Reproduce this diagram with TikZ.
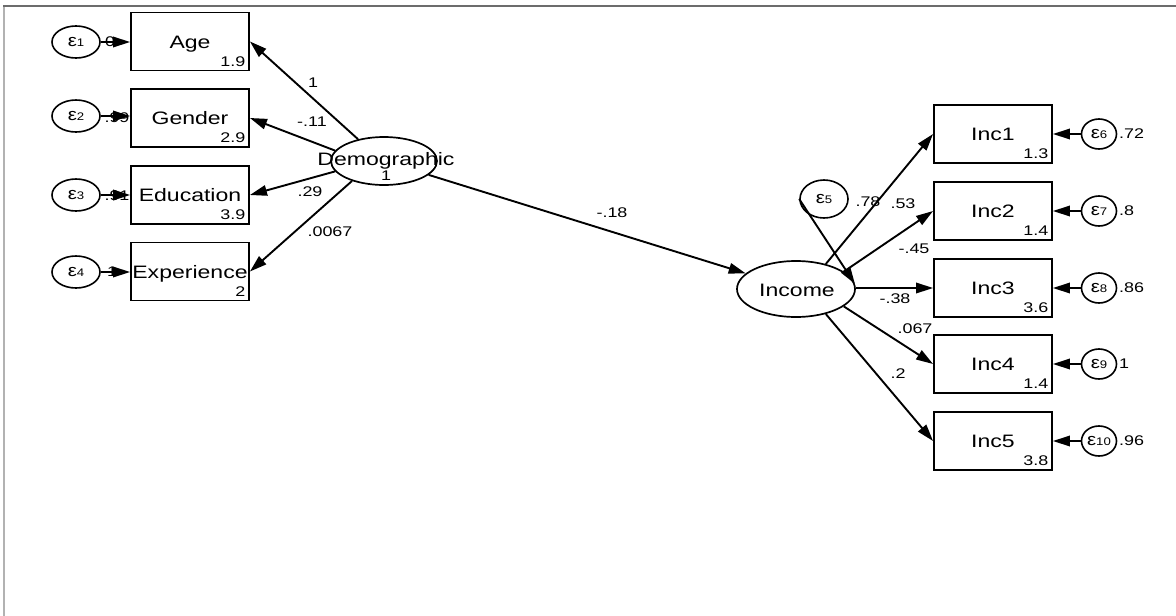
\documentclass[tikz,border=0pt]{standalone}
\usepackage{fontspec}
\setmainfont{Liberation Sans}
\usepackage{graphicx}
\usetikzlibrary{shapes.geometric,arrows.meta}
\newcommand{\bigT}[1]{\scalebox{1.28}[1]{\fontsize{18}{20}\selectfont #1}}
\newcommand{\smT}[1]{\scalebox{1.28}[1]{\fontsize{14}{16}\selectfont #1}}
\newcommand{\epsT}[1]{\scalebox{1.2}[1]{\fontsize{17}{18}\selectfont ε{\fontsize{11}{12}\selectfont #1}}}
\begin{document}
\begin{tikzpicture}[x=1pt,y=-1pt,
  obs/.style={draw, line width=1.9pt, minimum width=118pt, minimum height=58pt, inner sep=0pt, text height=13pt, text depth=0pt},
  lat/.style={draw, ellipse, line width=1.7pt, inner sep=0pt},
  errl/.style={draw, ellipse, line width=1.6pt, inner sep=0pt, minimum width=48pt, minimum height=32pt},
  errr/.style={draw, ellipse, line width=1.6pt, inner sep=0pt, minimum width=35pt, minimum height=30pt},
  arr/.style={line width=1.9pt, -{Triangle[length=17pt,width=10.5pt]}},
  lbl/.style={inner sep=0pt},
  num/.style={inner sep=0pt, anchor=base east}]
\useasboundingbox (0,0) rectangle (1176,616);
\fill[white] (0,0) rectangle (1176,616);
\draw[gray!60, line width=1.5pt] (4,616) -- (4,6);
\draw[gray!85!black, line width=1.5pt] (3.25,6) -- (1176,6);

% observed left
\node[obs] (age) at (190,41.5) {\bigT{Age}};
\node[obs] (gen) at (190,118) {\bigT{Gender}};
\node[obs] (edu) at (190,195) {\bigT{Education}};
\node[obs] (exp) at (190,271.5) {\bigT{Experience}};
\node[num] (agev) at ([xshift=-4.5pt,yshift=5pt]age.south east) {\smT{1.9}};
\node[num] (genv) at ([xshift=-4.5pt,yshift=5pt]gen.south east) {\smT{2.9}};
\node[num] (eduv) at ([xshift=-4.5pt,yshift=5pt]edu.south east) {\smT{3.9}};
\node[num] (expv) at ([xshift=-4.5pt,yshift=5pt]exp.south east) {\smT{2}};

% errors left
\node[errl] (e1) at (76,42) {\epsT{1}};
\node[errl] (e2) at (76,116) {\epsT{2}};
\node[errl] (e3) at (76,195) {\epsT{3}};
\node[errl] (e4) at (76,272) {\epsT{4}};
\draw[arr] (e1.east) -- (e1.east -| age.west);
\draw[arr] (e2.east) -- (e2.east -| gen.west);
\draw[arr] (e3.east) -- (e3.east -| edu.west);
\draw[arr] (e4.east) -- (e4.east -| exp.west);
\node[lbl] (l1) at (110,42) {\smT{0}};
\node[lbl] (l2) at (117,118) {\smT{.99}};
\node[lbl] (l3) at (117,196) {\smT{.91}};
\node[lbl] (l4) at (112,272) {\smT{1}};

% latent Demographic
\node[lat, minimum width=106pt, minimum height=48pt] (dem) at (384,161) {};
\node[lbl, anchor=base] (demt) at (386,165) {\bigT{Demographic}};
\node[lbl, anchor=base] (demv) at (386,180) {\smT{1}};
\draw[arr] (dem.140) -- (age.east);
\draw[arr] (dem.168) -- (gen.east);
\draw[arr] (dem.192) -- (edu.east);
\draw[arr] (dem.212) -- (exp.east);
\node[lbl] (p1) at (313,83) {\smT{1}};
\node[lbl] (p2) at (312,122) {\smT{-.11}};
\node[lbl] (p3) at (310,192) {\smT{.29}};
\node[lbl] (p4) at (330,232) {\smT{.0067}};

% latent Income
\node[lat, minimum width=118pt, minimum height=56pt] (inc) at (796,289) {};
\node[lbl, anchor=base] (inct) at (797,296) {\bigT{Income}};
\draw[arr] (dem) -- (inc);
\node[lbl] (p5) at (612,213) {\smT{-.18}};

% e5
\node[errl, minimum height=38pt] (e5) at (824,199) {\epsT{5}};
\draw[arr] (e5.west) -- (inc.5);
\node[lbl] (v5) at (868,202) {\smT{.78}};

% observed right
\node[obs] (i1) at (993,134) {\bigT{Inc1}};
\node[obs] (i2) at (993,211) {\bigT{Inc2}};
\node[obs] (i3) at (993,288) {\bigT{Inc3}};
\node[obs] (i4) at (993,364) {\bigT{Inc4}};
\node[obs] (i5) at (993,441) {\bigT{Inc5}};
\node[num] (i1v) at ([xshift=-4.5pt,yshift=5pt]i1.south east) {\smT{1.3}};
\node[num] (i2v) at ([xshift=-4.5pt,yshift=5pt]i2.south east) {\smT{1.4}};
\node[num] (i3v) at ([xshift=-4.5pt,yshift=5pt]i3.south east) {\smT{3.6}};
\node[num] (i4v) at ([xshift=-4.5pt,yshift=5pt]i4.south east) {\smT{1.4}};
\node[num] (i5v) at ([xshift=-4.5pt,yshift=5pt]i5.south east) {\smT{3.8}};

\draw[arr] (inc.40) -- (i1.west);
\draw[arr] (inc.20) -- (i2.west);
\draw[arr] (i3.west -| inc.east) -- (i3.west);
\draw[arr] (inc.-20) -- (i4.west);
\draw[arr] (inc.-40) -- (i5.west);
\node[lbl] (q1) at (903,204) {\smT{.53}};
\node[lbl] (q2) at (914,249) {\smT{-.45}};
\node[lbl] (q3) at (895,299) {\smT{-.38}};
\node[lbl] (q4) at (915,329) {\smT{.067}};
\node[lbl] (q5) at (898,374) {\smT{.2}};

% errors right
\node[errr] (e6) at (1099,134) {\epsT{6}};
\node[errr] (e7) at (1099,211) {\epsT{7}};
\node[errr] (e8) at (1099,288) {\epsT{8}};
\node[errr] (e9) at (1099,364) {\epsT{9}};
\node[errr] (e10) at (1099,441) {\epsT{10}};
\draw[arr] (e6.west) -- (i1.east);
\draw[arr] (e7.west) -- (i2.east);
\draw[arr] (e8.west) -- (i3.east);
\draw[arr] (e9.west) -- (i4.east);
\draw[arr] (e10.west) -- (i5.east);
\node[lbl, anchor=west] (v6) at (1119,134) {\smT{.72}};
\node[lbl, anchor=west] (v7) at (1119,211) {\smT{.8}};
\node[lbl, anchor=west] (v8) at (1119,288) {\smT{.86}};
\node[lbl, anchor=west] (v9) at (1119,364) {\smT{1}};
\node[lbl, anchor=west] (v10) at (1119,441) {\smT{.96}};
\end{tikzpicture}
\end{document}
